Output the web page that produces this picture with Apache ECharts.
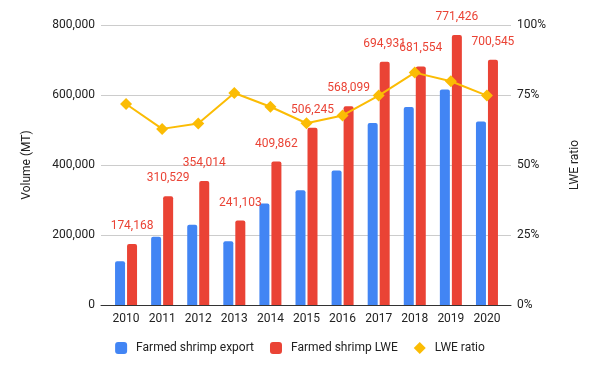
<!DOCTYPE html>
<html><head><meta charset="utf-8">
<script src="https://cdn.jsdelivr.net/npm/echarts@6/dist/echarts.min.js"></script>
<style>html,body{margin:0;padding:0;background:#fff}#c{width:600px;height:371px}</style>
</head><body><div id="c"></div>
<script>
const years = ['2010','2011','2012','2013','2014','2015','2016','2017','2018','2019','2020'];
const exportVol = [125000, 195000, 229500, 182500, 290000, 328000, 384500, 520000, 565500, 616000, 524000];
const lweVol = [174168, 310529, 354014, 241103, 409862, 506245, 568099, 694931, 681554, 771426, 700545];
const lweRatio = [0.718, 0.629, 0.648, 0.757, 0.708, 0.649, 0.677, 0.748, 0.83, 0.799, 0.748];
const leftTicks = [0, 200000, 400000, 600000, 800000];
const rightTicks = [0, 0.25, 0.5, 0.75, 1];

const fmt = v => Number(v).toLocaleString('en-US');
const chart = echarts.init(document.getElementById('c'), null, {renderer:'canvas'});
const font = 'Roboto, Arial, sans-serif';
const lMin = leftTicks[0], lMax = leftTicks[leftTicks.length-1];
const rMin = rightTicks[0], rMax = rightTicks[rightTicks.length-1];
chart.setOption({
  animation: false,
  textStyle: {fontFamily: font},
  grid: [
    {left: 101, right: 89, top: 25, bottom: 66, containLabel: false},
    {left: 108, right: 95, top: 25, bottom: 66, containLabel: false}
  ],
  legend: {
    left: 'center', top: 337,
    itemWidth: 12, itemHeight: 12, itemGap: 16,
    textStyle: {fontFamily: font, fontSize: 12, color: '#222', padding: [0,0,0,4]},
    data: [
      {name: 'Farmed shrimp export', icon: 'roundRect'},
      {name: 'Farmed shrimp LWE', icon: 'roundRect'},
      {name: 'LWE ratio', icon: 'diamond'}
    ]
  },
  xAxis: [{
    gridIndex: 0, type: 'value', min: 0, max: 1,
    axisTick: {show: false}, axisLabel: {show: false}, splitLine: {show: false},
    axisLine: {show: true, onZero: false, lineStyle: {color: '#333', width: 1}}
  }, {
    gridIndex: 1, type: 'category', data: years,
    axisTick: {show: false},
    axisLine: {show: false},
    axisLabel: {color: '#222', fontSize: 12, margin: 8, fontFamily: font, interval: 0}
  }],
  yAxis: [{
    gridIndex: 0, type: 'value', min: lMin, max: lMax, interval: 200000,
    name: 'Volume (MT)', nameLocation: 'middle', nameGap: 68, nameRotate: 90,
    nameTextStyle: {color: '#222', fontSize: 12, fontFamily: font},
    axisLabel: {color: '#222', fontSize: 12, margin: 6, formatter: v => fmt(v)},
    splitLine: {lineStyle: {color: '#ccc'}},
    axisLine: {show: false}, axisTick: {show: false}
  }, {
    gridIndex: 0, type: 'value', min: rMin, max: rMax, interval: 0.25,
    name: 'LWE ratio', nameLocation: 'middle', nameGap: 58, nameRotate: 90,
    nameTextStyle: {color: '#222', fontSize: 12, fontFamily: font},
    axisLabel: {color: '#222', fontSize: 12, margin: 6, formatter: v => Math.round(v*100) + '%'},
    splitLine: {show: false},
    axisLine: {show: false}, axisTick: {show: false}
  }, {
    gridIndex: 1, type: 'value', min: lMin, max: lMax, show: false, splitLine: {show: false}
  }, {
    gridIndex: 1, type: 'value', min: rMin, max: rMax, show: false, position: 'right', splitLine: {show: false}
  }],
  series: [{
    name: 'Farmed shrimp export', type: 'bar', data: exportVol,
    xAxisIndex: 1, yAxisIndex: 2,
    barWidth: 10, barGap: '20%',
    itemStyle: {color: '#4285f4', borderRadius: [2,2,0,0]}
  }, {
    name: 'Farmed shrimp LWE', type: 'bar', data: lweVol,
    xAxisIndex: 1, yAxisIndex: 2,
    barWidth: 10,
    itemStyle: {color: '#ea4335', borderRadius: [2,2,0,0]},
    label: {show: true, position: 'top', distance: 12, color: '#ea4335', fontSize: 12, fontFamily: font,
      formatter: p => fmt(p.value)}
  }, {
    name: 'LWE ratio', type: 'line', data: lweRatio,
    xAxisIndex: 1, yAxisIndex: 3,
    symbol: 'diamond', symbolSize: 12,
    lineStyle: {color: '#fbbc04', width: 2},
    itemStyle: {color: '#fbbc04'}
  }]
});
</script></body></html>
